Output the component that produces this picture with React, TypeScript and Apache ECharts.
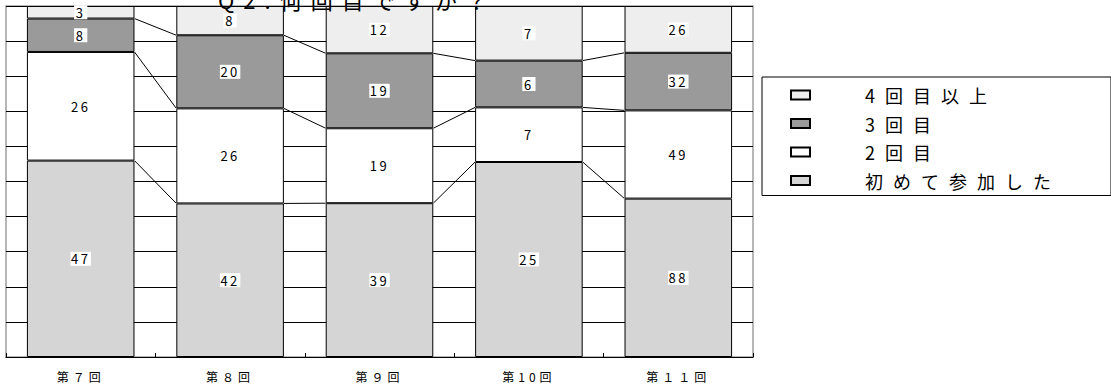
import React, { useEffect, useRef } from "react";
import * as echarts from "echarts";

const categories = ["第７回", "第８回", "第９回", "第10回", "第１１回"];
const seriesNames = ["初めて参加した", "2回目", "3回目", "4回目以上"];
const firstTime = [47, 42, 39, 25, 88];
const second = [26, 26, 19, 7, 49];
const third = [8, 20, 19, 6, 32];
const fourthPlus = [3, 8, 12, 7, 26];
const legendOrder = ["4回目以上", "3回目", "2回目", "初めて参加した"];
const titleText = "Q2:何回目ですか？";

const counts = [firstTime, second, third, fourthPlus];
const colors = ["#d5d5d5", "#ffffff", "#9a9a9a", "#eeeeee"];
const BAR_RATIO = 0.72;

export default function App() {
  const ref = useRef<HTMLDivElement>(null);
  useEffect(() => {
    document.body.style.margin = "0";
    const chart = echarts.init(ref.current!, null, { renderer: "svg" });
    const totals = categories.map((_, i) => counts.reduce((s, arr) => s + arr[i], 0));
    const pct = counts.map((arr) => arr.map((v, i) => (v / totals[i]) * 100));
    const cum = (k: number, i: number) => {
      let s = 0;
      for (let j = 0; j < k; j++) s += pct[j][i];
      return s;
    };
    const lineData = categories.slice(0, -1).map((_, i) => [
      i,
      cum(1, i), cum(2, i), cum(3, i),
      cum(1, i + 1), cum(2, i + 1), cum(3, i + 1),
    ]);
    const cjk = "'Noto Sans CJK JP', sans-serif";
    const barSeries = seriesNames.map((name, si) => ({
      name,
      type: "bar",
      stack: "total",
      barCategoryGap: "28%",
      data: pct[si],
      itemStyle: { color: colors[si], borderColor: "#000", borderWidth: 1 },
      label: {
        show: true,
        position: "inside",
        color: "#000",
        fontFamily: cjk,
        fontSize: 13,
        backgroundColor: "#fff",
        padding: [1, 3, 0, 3],
        formatter: (p: any) => String(counts[si][p.dataIndex]),
      },
    }));
    chart.setOption({
      animation: false,
      title: {
        text: titleText,
        left: 213,
        top: -17,
        textStyle: { fontFamily: cjk, fontSize: 22, fontWeight: "normal", color: "#000" },
      },
      grid: { left: 6, right: 358, top: 6, bottom: 33, show: true, borderColor: "#a0a0a0", borderWidth: 1.5 },
      legend: {
        data: legendOrder,
        orient: "vertical",
        left: 762,
        top: 77,
        icon: "rect",
        itemWidth: 19,
        itemHeight: 9,
        itemGap: 10.5,
        padding: [9, 120, 6, 28],
        borderColor: "#000",
        borderWidth: 1,
        backgroundColor: "#fff",
        textStyle: { fontFamily: cjk, fontSize: 18, color: "#000", lineHeight: 18, padding: [0, 0, 0, 50] },
      },
      xAxis: {
        type: "category",
        data: categories,
        axisLine: { lineStyle: { color: "#000", width: 1 } },
        axisTick: { show: true, inside: true, length: 4, lineStyle: { color: "#000" } },
        axisLabel: { margin: 13, fontFamily: cjk, fontSize: 12, color: "#000" },
      },
      yAxis: {
        type: "value",
        min: 0,
        max: 100,
        interval: 10,
        axisLine: { show: false },
        axisTick: { show: false },
        axisLabel: { show: false },
        splitLine: { lineStyle: { color: "#000", width: 1 } },
      },
      series: [
        ...barSeries,
        {
          name: "lines",
          type: "custom",
          z: 5,
          silent: true,
          data: lineData,
          encode: { x: 0, y: [1, 2, 3, 4, 5, 6] },
          renderItem: (params: any, api: any) => {
            const i = api.value(0);
            const band = api.size([1, 0])[0];
            const half = (band * BAR_RATIO) / 2;
            const children: any[] = [];
            for (let k = 1; k <= 3; k++) {
              const a = api.coord([i, api.value(k)]);
              const b = api.coord([i + 1, api.value(k + 3)]);
              children.push({
                type: "line",
                shape: { x1: a[0] + half, y1: a[1], x2: b[0] - half, y2: b[1] },
                style: { stroke: "#000", lineWidth: 1 },
              });
            }
            return { type: "group", children };
          },
        },
      ],
    });
    return () => chart.dispose();
  }, []);
  return (
    <>
      <style>{`
        text[style*="13px"] { letter-spacing: 2.5px; }
        text[style*="12px"] { letter-spacing: 4px; }
        text[style*="18px"] { letter-spacing: 10px; }
        text[style*="22px"] { letter-spacing: 9px; }
      `}</style>
      <div ref={ref} style={{ width: 1111, height: 390 }} />
    </>
  );
}
